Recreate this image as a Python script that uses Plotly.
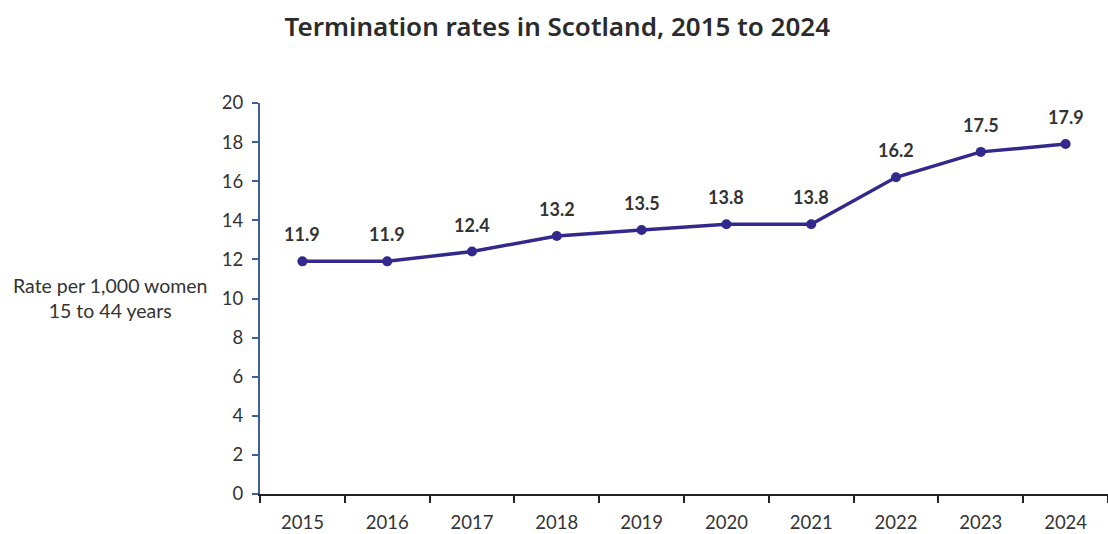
import plotly.graph_objects as go

years = ["2015", "2016", "2017", "2018", "2019", "2020", "2021", "2022", "2023", "2024"]
rates = [11.9, 11.9, 12.4, 13.2, 13.5, 13.8, 13.8, 16.2, 17.5, 17.9]
y_ticks = [0, 2, 4, 6, 8, 10, 12, 14, 16, 18, 20]

line_colour = "#33298C"
text_colour = "#333333"
label_font = "Lato, 'Open Sans', sans-serif"

fig = go.Figure()
fig.add_trace(go.Scatter(
    x=years,
    y=rates,
    mode="lines+markers",
    line=dict(color=line_colour, width=3.5),
    marker=dict(color=line_colour, size=10),
    cliponaxis=False,
    hoverinfo="x+y",
))

# value labels above each point (category axes take the category index)
value_labels = [
    dict(
        x=i, y=v, xref="x", yref="y",
        text=f"{v:.1f}",
        showarrow=False,
        yshift=27,
        font=dict(family=label_font, size=18, color=text_colour, weight="bold"),
    )
    for i, v in enumerate(rates)
]

axis_title = dict(
    text="Rate per 1,000 women<br>15 to 44 years",
    xref="paper", x=(110 - 260) / 848,
    yref="paper", y=0.502,
    showarrow=False,
    font=dict(family=label_font, size=19.5, color=text_colour),
    align="center",
    xanchor="center",
    yanchor="middle",
)

fig.update_layout(
    width=1108,
    height=534,
    margin=dict(l=260, r=0, t=103, b=40),
    paper_bgcolor="white",
    plot_bgcolor="white",
    showlegend=False,
    title=dict(
        text="Termination rates in Scotland, 2015 to 2024",
        x=0.503, xref="container", xanchor="center",
        y=0.95, yanchor="middle",
        font=dict(family="'Noto Sans', 'Open Sans', sans-serif", size=26, color="#2b2b2b", weight=600),
    ),
    xaxis=dict(
        type="category",
        range=[-0.5, 9.5],
        showgrid=False,
        showline=True,
        linecolor="#222222",
        linewidth=1.5,
        ticks="outside",
        tickson="boundaries",
        ticklen=7,
        tickcolor="#222222",
        tickwidth=1.5,
        tickfont=dict(family=label_font, size=18.5, color=text_colour),
        ticklabelstandoff=11,
        fixedrange=True,
    ),
    yaxis=dict(
        range=[0, 20],
        tickvals=y_ticks,
        showgrid=False,
        zeroline=False,
        showline=True,
        linecolor="#3F5E9C",
        linewidth=2,
        ticks="outside",
        ticklen=6,
        tickcolor="#3F5E9C",
        tickwidth=1.5,
        tickfont=dict(family=label_font, size=18.5, color=text_colour),
        ticklabelstandoff=5,
        fixedrange=True,
    ),
    annotations=value_labels + [axis_title],
)

fig.write_html("out.html")
